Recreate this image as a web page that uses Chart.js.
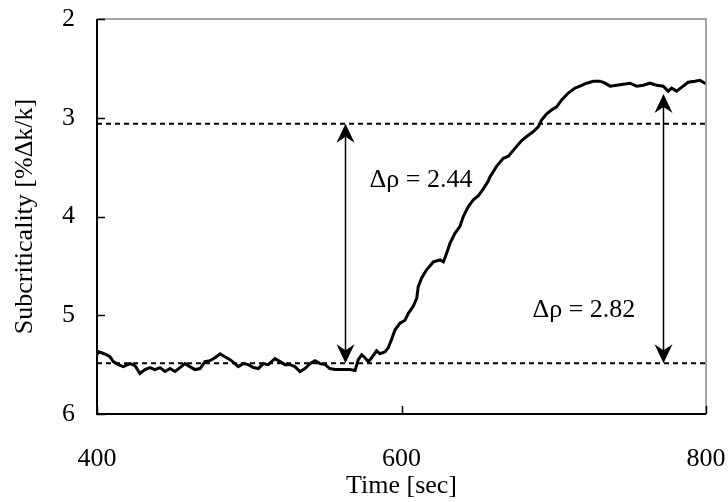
<!DOCTYPE html>
<html lang="en">
<head>
    <meta charset="UTF-8">
    <title>Subcriticality vs Time</title>
    <script src="https://cdn.jsdelivr.net/npm/chart.js"></script>
    <style>
        html, body { margin: 0; padding: 0; background: #fff; }
        #wrap { width: 728px; height: 502px; }
    </style>
</head>
<body>
<div id="wrap"><canvas id="chart" width="728" height="502"></canvas></div>
<script>
    // measured curve (time in sec, subcriticality in %dk/k)
    const times = [400, 400.9, 403, 406.4, 408.5, 410.7, 414, 417.3, 421.7, 425, 428.2, 431.5, 434.8, 438, 441.4,
        444.7, 448, 451.2, 454.5, 457.8, 461, 464.4, 467.7, 470.9, 474.2, 477.5, 480.8, 484, 487.4, 490.6,
        492.8, 496, 499.4, 502.7, 506, 509.2, 512.5, 516.9, 520.2, 523.5, 526.8, 530, 533.3, 536.6, 539.9,
        543.2, 546.5, 549.8, 553, 556.3, 559.6, 562.9, 566.2, 569.5, 570.6, 571.6, 573.9, 576, 578.2, 580.4,
        583.7, 585.9, 589.2, 591.3, 593.6, 595.7, 599, 602.3, 604.5, 607.7, 610, 611, 613.3, 616.5, 620.9,
        625.3, 627.5, 629.7, 631.9, 635.1, 638.4, 640.6, 643.9, 647.2, 650.5, 653.7, 657, 658.1, 662.5,
        666.9, 670.2, 674.5, 678.9, 682.2, 686.6, 689.9, 692.1, 695.4, 698.7, 701.9, 705.2, 709.5, 714,
        717.2, 721.6, 726, 730.4, 733.7, 737, 741.3, 745.7, 750.1, 754.5, 758.8, 763.2, 767.6, 771.9,
        775.2, 777.4, 780.7, 785, 788.3, 792.7, 796, 799.3, 800];
    const values = [5.40, 5.37, 5.38, 5.40, 5.42, 5.47, 5.50, 5.52, 5.49, 5.51, 5.59, 5.55, 5.53, 5.55, 5.53,
        5.57, 5.54, 5.57, 5.53, 5.49, 5.52, 5.55, 5.54, 5.47, 5.46, 5.43, 5.39, 5.42, 5.45, 5.49,
        5.52, 5.49, 5.50, 5.53, 5.54, 5.49, 5.50, 5.44, 5.47, 5.50, 5.50, 5.52, 5.57, 5.54, 5.49,
        5.46, 5.49, 5.50, 5.54, 5.55, 5.55, 5.55, 5.55, 5.56, 5.50, 5.45, 5.40, 5.43, 5.47, 5.43,
        5.36, 5.39, 5.37, 5.33, 5.24, 5.15, 5.08, 5.05, 4.98, 4.91, 4.83, 4.71, 4.62, 4.54, 4.46,
        4.44, 4.46, 4.37, 4.27, 4.17, 4.10, 4.00, 3.90, 3.83, 3.79, 3.72, 3.64, 3.60, 3.49,
        3.41, 3.39, 3.31, 3.23, 3.19, 3.14, 3.09, 3.02, 2.96, 2.92, 2.89, 2.82, 2.75, 2.70,
        2.68, 2.65, 2.63, 2.63, 2.65, 2.68, 2.67, 2.66, 2.65, 2.68, 2.67, 2.65, 2.67, 2.68,
        2.73, 2.70, 2.73, 2.68, 2.64, 2.63, 2.62, 2.65, 2.65];

    // dashed reference levels
    const refLevels = [3.06, 5.485];

    // double-headed arrows: x, from, to
    const arrowX = [563, 772];
    const arrowFrom = [3.06, 2.76];
    const arrowTo = [5.485, 5.485];

    // annotation labels
    const labelText = ['\u0394\u03c1 = 2.44', '\u0394\u03c1 = 2.82'];
    const labelX = [579, 686];
    const labelY = [3.63, 4.95];

    const xTicks = [400, 600, 800];
    const yTicks = [2, 3, 4, 5, 6];

    const serif = "'Liberation Serif', 'Times New Roman', serif";

    function arrowHead(ctx, x, y, dir) {
        // dir = 1 points down, -1 points up
        ctx.beginPath();
        ctx.moveTo(x, y);
        ctx.lineTo(x - 9, y - dir * 19);
        ctx.lineTo(x, y - dir * 13);
        ctx.lineTo(x + 9, y - dir * 19);
        ctx.closePath();
        ctx.fill();
    }

    const decor = {
        id: 'decor',
        afterDatasetsDraw(chart) {
            const ctx = chart.ctx;
            const xs = chart.scales.x, ys = chart.scales.y;
            ctx.save();
            ctx.strokeStyle = '#000';
            ctx.fillStyle = '#000';
            ctx.lineWidth = 1.5;
            for (let i = 0; i < arrowX.length; i++) {
                const px = Math.round(xs.getPixelForValue(arrowX[i])) + 0.5;
                const y1 = ys.getPixelForValue(arrowFrom[i]);
                const y2 = ys.getPixelForValue(arrowTo[i]);
                ctx.beginPath();
                ctx.moveTo(px, y1 + 10);
                ctx.lineTo(px, y2 - 10);
                ctx.stroke();
                arrowHead(ctx, px, y1, -1);
                arrowHead(ctx, px, y2, 1);
            }
            ctx.font = '26px ' + serif;
            ctx.textAlign = 'left';
            ctx.textBaseline = 'middle';
            for (let i = 0; i < labelText.length; i++) {
                ctx.fillText(labelText[i], xs.getPixelForValue(labelX[i]), ys.getPixelForValue(labelY[i]));
            }

            // frame
            const a = chart.chartArea;
            ctx.lineWidth = 1.5;
            ctx.strokeStyle = '#888';
            ctx.beginPath();
            ctx.moveTo(a.left, a.top);
            ctx.lineTo(a.right, a.top);
            ctx.lineTo(a.right, a.bottom);
            ctx.stroke();
            ctx.strokeStyle = '#000';
            ctx.lineWidth = 2;
            ctx.beginPath();
            ctx.moveTo(a.left, a.top);
            ctx.lineTo(a.left, a.bottom);
            ctx.lineTo(a.right, a.bottom);
            ctx.stroke();
            // inside tick marks
            ctx.lineWidth = 1.5;
            ctx.beginPath();
            yTicks.forEach(v => {
                const py = Math.round(ys.getPixelForValue(v)) + 0.5;
                ctx.moveTo(a.left, py);
                ctx.lineTo(a.left + 8, py);
            });
            xTicks.forEach(v => {
                const px = Math.round(xs.getPixelForValue(v)) + 0.5;
                ctx.moveTo(px, a.bottom);
                ctx.lineTo(px, a.bottom - 8);
            });
            ctx.stroke();
            ctx.restore();
        }
    };

    const curve = times.map((t, i) => ({ x: t, y: values[i] }));
    const refSets = refLevels.map(v => ({
        data: [{ x: 400, y: v }, { x: 800, y: v }],
        borderColor: '#000',
        borderWidth: 2,
        borderDash: [5, 4],
        pointRadius: 0
    }));

    new Chart(document.getElementById('chart'), {
        type: 'line',
        data: {
            datasets: [{
                data: curve,
                borderColor: '#000',
                borderWidth: 3,
                pointRadius: 0,
                tension: 0
            }].concat(refSets)
        },
        options: {
            responsive: false,
            animation: false,
            layout: { padding: 0 },
            plugins: { legend: { display: false }, tooltip: { enabled: false } },
            scales: {
                x: {
                    type: 'linear',
                    min: 400, max: 800,
                    afterBuildTicks(s) { s.ticks = xTicks.map(v => ({ value: v })); },
                    afterFit(s) { s.height = 88; s.paddingLeft = 0; s.paddingRight = 22; },
                    grid: { display: false, drawTicks: false },
                    border: { display: false },
                    ticks: { color: '#000', padding: 30, maxRotation: 0, font: { family: serif, size: 26 } },
                    title: {
                        display: true, text: 'Time [sec]', color: '#000',
                        padding: { top: 0, bottom: 0 },
                        font: { family: serif, size: 26 }
                    }
                },
                y: {
                    type: 'linear',
                    min: 2, max: 6,
                    reverse: true,
                    afterBuildTicks(s) { s.ticks = yTicks.map(v => ({ value: v })); },
                    afterFit(s) { s.width = 97; s.paddingTop = 19; s.paddingBottom = 0; },
                    grid: { display: false, drawTicks: false },
                    border: { display: false },
                    ticks: { color: '#000', padding: 22, font: { family: serif, size: 26 } },
                    title: {
                        display: true, text: 'Subcriticality [%\u0394k/k]', color: '#000',
                        padding: { top: 10, bottom: 0 },
                        font: { family: serif, size: 26 }
                    }
                }
            }
        },
        plugins: [decor]
    });
</script>
</body>
</html>
